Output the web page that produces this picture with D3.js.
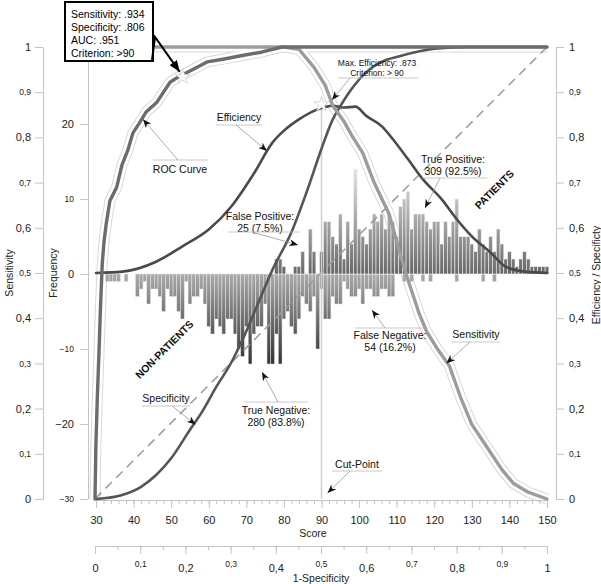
<!DOCTYPE html>
<html>
<head>
<meta charset="utf-8">
<script src="https://cdn.jsdelivr.net/npm/d3@7"></script>
<style>
body { margin: 0; background: #fff; }
svg { font-family: "Liberation Sans", Arial, sans-serif; }
</style>
</head>
<body>
<svg id="chart" width="601" height="584"></svg>
<script>
// Data

// histogram bins, one per score point 30..150
var scores = d3.range(30, 151);
// patients: frequency above the zero line
var patients = [
  0,0,0,0,0,0,0,0,0,0,
  0,0,0,0,0,0,0,0,0,0,
  0,0,0,0,0,0,0,0,0,0,
  0,0,0,0,0,0,0,0,0,0,
  0,0,0,0,0,0,0,0,2,2,
  1,0,0,1,1,3,0,6,3,0,
  3,7,7,5,4,8,2,7,4,14,
  6,5,4,6,8,7,8,6,8,7,
  5,9,10,11,6,8,8,8,7,6,
  7,7,4,7,5,7,10,5,5,5,
  4,3,6,4,3,5,3,6,4,2,
  3,2,1,2,3,2,1,1,1,1,
  1
];
// non-patients: frequency drawn below the zero line
var nonPatients = [
  0,0,0,1,1,1,1,0,1,0,
  0,3,2,1,4,2,2,3,5,2,
  3,3,5,6,1,4,3,3,2,4,
  7,8,6,7,8,6,6,8,10,11,
  7,12,8,7,7,4,12,12,8,12,
  6,5,7,8,6,3,4,5,3,10,
  2,6,6,3,4,4,1,2,3,3,
  2,4,2,2,3,3,2,2,3,3,
  0,0,1,0,1,0,0,1,0,1,
  0,0,0,0,0,0,1,0,0,0,
  0,0,0,1,0,0,1,0,0,0,
  0,0,0,0,0,0,0,0,0,0,
  0
];

// curves against score
var sensScore = [30, 80, 84, 88, 91, 93, 96, 98, 101, 104, 108, 111, 113, 116, 118, 121, 124, 127, 130, 134, 138, 141, 145, 150];
var sensValue = [1, 1, .995, .955, .915, .87, .835, .805, .765, .70, .63, .54, .485, .41, .37, .33, .295, .225, .165, .115, .065, .035, .015, 0];

var specScore = [30, 37, 42, 46, 50, 55, 58, 62, 66, 69, 73, 77, 82, 86, 90, 93, 95, 98, 102, 106, 111, 120, 129, 150];
var specValue = [0, .009, .027, .053, .09, .153, .19, .248, .302, .353, .43, .508, .59, .678, .775, .84, .869, .907, .945, .967, .98, .996, 1, 1];

var effScore = [30, 37, 46, 53, 60, 66, 72, 77, 80, 84, 89, 93, 96, 99, 102, 106, 109, 113, 117, 122, 126, 130, 135, 139, 144, 150];
var effValue = [.5, .503, .525, .559, .596, .647, .72, .789, .815, .84, .862, .87, .866, .868, .847, .825, .796, .752, .707, .663, .619, .581, .545, .514, .503, .5];

// ROC curve: 1-specificity vs sensitivity
var rocFpr = [0, .002, .005, .009, .012, .016, .02, .025, .033, .048, .06, .072, .084, .097, .113, .137, .166, .188, .21, .248, .283, .32, .37, .414, 1];
var rocTpr = [0, .12, .22, .33, .42, .52, .57, .61, .66, .69, .74, .77, .81, .83, .856, .878, .922, .936, .947, .967, .973, .98, .989, 1, 1];

// ticks
var propTicks = [0, .1, .2, .3, .4, .5, .6, .7, .8, .9, 1];
var propTickLabels = ["0", "0,1", "0,2", "0,3", "0,4", "0,5", "0,6", "0,7", "0,8", "0,9", "1"];
var freqTicks = [-30, -20, -10, 0, 10, 20];
var scoreTicks = [30, 40, 50, 60, 70, 80, 90, 100, 110, 120, 130, 140, 150];

var cutPoint = 90;
var maxEfficiency = .873;
var critFpr = .194, critSens = .934;

// Scales
var xScore = d3.scaleLinear().domain([30, 150]).range([96, 547]);
var xFpr = d3.scaleLinear().domain([0, 1]).range([95, 547]);
var yProp = d3.scaleLinear().domain([0, 1]).range([499, 47]);
var yFreq = d3.scaleLinear().domain([-30, 30]).range([499, 49]);

var svg = d3.select('#chart');

var defs = svg.append('defs');
// gradient for patient bars (light at top, darker at zero)
var gPos = defs.append('linearGradient').attr('id', 'gradPos')
    .attr('gradientUnits', 'userSpaceOnUse')
    .attr('x1', 0).attr('x2', 0).attr('y1', yFreq(15)).attr('y2', yFreq(0));
gPos.append('stop').attr('offset', 0).attr('stop-color', '#eeeeee');
gPos.append('stop').attr('offset', 1).attr('stop-color', '#686868');
// gradient for non-patient bars (light at zero, dark at the bottom)
var gNeg = defs.append('linearGradient').attr('id', 'gradNeg')
    .attr('gradientUnits', 'userSpaceOnUse')
    .attr('x1', 0).attr('x2', 0).attr('y1', yFreq(0)).attr('y2', yFreq(-12));
gNeg.append('stop').attr('offset', 0).attr('stop-color', '#ababab');
gNeg.append('stop').attr('offset', 1).attr('stop-color', '#333');

// clip so band outlines do not poke above the top line
defs.append('clipPath').attr('id', 'bandClip')
    .append('rect').attr('x', 0).attr('y', yProp(1) + 2).attr('width', 601).attr('height', 584);

// arrowheads
defs.append('marker').attr('id', 'arr')
    .attr('viewBox', '0 0 10 8').attr('refX', 10).attr('refY', 4)
    .attr('markerWidth', 9).attr('markerHeight', 7)
    .attr('markerUnits', 'userSpaceOnUse').attr('orient', 'auto')
    .append('path').attr('d', 'M0,0 L10,4 L0,8 L3,4 Z').attr('fill', '#111');
defs.append('marker').attr('id', 'arrBig')
    .attr('viewBox', '0 0 10 8').attr('refX', 10).attr('refY', 4)
    .attr('markerWidth', 12).attr('markerHeight', 9)
    .attr('markerUnits', 'userSpaceOnUse').attr('orient', 'auto')
    .append('path').attr('d', 'M0,0 L10,4 L0,8 Z').attr('fill', '#000');

// line generators
var lineScore = d3.line().x(d => xScore(d[0])).y(d => yProp(d[1]));
var lineSmooth = d3.line().x(d => xScore(d[0])).y(d => yProp(d[1])).curve(d3.curveMonotoneX);
var lineRoc = d3.line().x(d => xFpr(d[0])).y(d => yProp(d[1]));
var sensPts = d3.zip(sensScore, sensValue);
var specPts = d3.zip(specScore, specValue);
var effPts = d3.zip(effScore, effValue);
var rocPts = d3.zip(rocFpr, rocTpr);

// confidence bands round ROC and sensitivity (thin light outlines)
var bands = svg.append('g').attr('clip-path', 'url(#bandClip)');
[[lineRoc, rocPts], [lineScore, sensPts]].forEach(function (c) {
    bands.append('path').attr('d', c[0](c[1])).attr('fill', 'none')
        .attr('stroke', '#d9d9d9').attr('stroke-width', 11).attr('stroke-linejoin', 'round');
});
[[lineRoc, rocPts], [lineScore, sensPts]].forEach(function (c) {
    bands.append('path').attr('d', c[0](c[1])).attr('fill', 'none')
        .attr('stroke', '#fff').attr('stroke-width', 9).attr('stroke-linejoin', 'round');
});

// axes
function styleAxis(g) {
    g.select('.domain').attr('stroke', '#c4c4c4');
    g.selectAll('.tick line').attr('stroke', '#c4c4c4');
    g.selectAll('.tick text').attr('fill', '#222').attr('font-family', null);
}

// sensitivity (far left)
svg.append('g').attr('transform', 'translate(43,0)')
    .call(d3.axisLeft(yProp).tickValues(propTicks).tickFormat((d, i) => propTickLabels[i]).tickSize(8).tickSizeOuter(0).tickPadding(4))
    .call(styleAxis)
    .selectAll('.tick text').attr('font-size', (d, i) => i % 2 ? 8.5 : 11);

// frequency
svg.append('g').attr('transform', 'translate(88,0)')
    .call(d3.axisLeft(yFreq).tickValues(freqTicks).tickSize(8).tickSizeOuter(0).tickPadding(6))
    .call(styleAxis)
    .selectAll('.tick text').attr('font-size', d => (d / 10) % 2 ? 8.5 : 11);
// extend frequency axis line to the top like the original
svg.append('line').attr('x1', 88).attr('x2', 88).attr('y1', yProp(1)).attr('y2', yFreq(30)).attr('stroke', '#c4c4c4');

// right: efficiency / specificity
svg.append('g').attr('transform', 'translate(556,0)')
    .call(d3.axisRight(yProp).tickValues(propTicks).tickFormat((d, i) => propTickLabels[i]).tickSize(8).tickSizeOuter(0).tickPadding(5))
    .call(styleAxis)
    .selectAll('.tick text').attr('font-size', (d, i) => i % 2 ? 8.5 : 11);

// score axis
svg.append('g').attr('transform', 'translate(0,500)')
    .call(d3.axisBottom(xScore).tickValues(d3.range(30, 151, 2)).tickFormat('').tickSize(4).tickSizeOuter(0))
    .call(styleAxis);
svg.append('g').attr('transform', 'translate(0,500)')
    .call(d3.axisBottom(xScore).tickValues(scoreTicks).tickSize(8).tickSizeOuter(0).tickPadding(8))
    .call(styleAxis)
    .selectAll('.tick text').attr('font-size', 11);

// 1-specificity axis
svg.append('g').attr('transform', 'translate(0,546)')
    .call(d3.axisBottom(xFpr).ticks(30).tickFormat('').tickSize(4).tickSizeOuter(0))
    .call(styleAxis);
svg.append('g').attr('transform', 'translate(0,546)')
    .call(d3.axisBottom(xFpr).tickValues(propTicks).tickFormat((d, i) => propTickLabels[i]).tickSize(8).tickSizeOuter(0).tickPadding(10))
    .call(styleAxis)
    .selectAll('.tick text').attr('font-size', (d, i) => i % 2 ? 8.5 : 11)
    .attr('dy', (d, i) => i % 2 ? '0.4em' : '0.71em');

// axis titles
function title(txt, x, y, rot) {
    svg.append('text').attr('transform', 'translate(' + x + ',' + y + ')' + (rot ? ' rotate(' + rot + ')' : ''))
        .attr('text-anchor', 'middle').attr('font-size', 10.5).attr('fill', '#222').text(txt);
}
title('Sensitivity', 13, 273, -90);
title('Frequency', 57, 273, -90);
title('Efficiency / Specificty', 600, 275, -90);
title('Score', 313, 537);
title('1-Specificity', 321, 582);

// histogram
var bw = xScore(31) - xScore(30);
var hist = svg.append('g');
hist.selectAll('rect.neg').data(scores.map((s, i) => [s, nonPatients[i]]).filter(d => d[1] > 0))
    .enter().append('rect').attr('class', 'neg')
    .attr('x', d => xScore(d[0]) - bw / 2)
    .attr('width', bw)
    .attr('y', yFreq(0))
    .attr('height', d => yFreq(-d[1]) - yFreq(0))
    .attr('fill', 'url(#gradNeg)').attr('stroke', '#e6e6e6').attr('stroke-width', 0.5);
hist.selectAll('rect.pos').data(scores.map((s, i) => [s, patients[i]]).filter(d => d[1] > 0))
    .enter().append('rect').attr('class', 'pos')
    .attr('x', d => xScore(d[0]) - bw / 2)
    .attr('width', bw)
    .attr('y', d => yFreq(d[1]))
    .attr('height', d => yFreq(0) - yFreq(d[1]))
    .attr('fill', 'url(#gradPos)').attr('stroke', '#f4f4f4').attr('stroke-width', 0.6);

// diagonal reference line (over the bars)
svg.append('line')
    .attr('x1', xFpr(0)).attr('y1', yProp(0)).attr('x2', xFpr(1)).attr('y2', yProp(1))
    .attr('stroke', '#9a9a9a').attr('stroke-width', 1.5).attr('stroke-dasharray', '9,6');

// cut-point line
svg.append('line')
    .attr('x1', xScore(cutPoint)).attr('x2', xScore(cutPoint))
    .attr('y1', yProp(maxEfficiency)).attr('y2', yProp(0))
    .attr('stroke', '#cfcfcf').attr('stroke-width', 1.5);

// curves
function curve(gen, pts, color, w) {
    svg.append('path').attr('d', gen(pts)).attr('fill', 'none')
        .attr('stroke', color).attr('stroke-width', w)
        .attr('stroke-linejoin', 'round').attr('stroke-linecap', 'round');
}
curve(lineSmooth, effPts, '#4a4a4a', 2.6);
curve(lineSmooth, specPts, '#555', 2.6);
curve(lineScore, sensPts, '#9c9c9c', 3.4);
curve(lineRoc, rocPts, '#6c6c6c', 3.4);

// light star markers at the criterion
var star = d3.symbol().type(d3.symbolStar).size(70);
[[xFpr(critFpr), yProp(critSens)], [xScore(cutPoint), yProp(maxEfficiency)]].forEach(function (p) {
    svg.append('path').attr('d', star()).attr('transform', 'translate(' + p[0] + ',' + p[1] + ')')
        .attr('fill', '#fff').attr('stroke', '#cfcfcf').attr('stroke-width', 0.8);
});

// annotations
var ann = svg.append('g').attr('font-size', 10.5).attr('fill', '#111');
function note(lines, tx, ty, ul, from, to, size) {
    var fs = size || 10.5;
    lines.forEach(function (t, i) {
        ann.append('text').attr('x', tx).attr('y', ty + i * fs * 1.15)
            .attr('text-anchor', 'middle').attr('font-size', fs).text(t);
    });
    ann.append('line').attr('x1', ul[0]).attr('x2', ul[1]).attr('y1', ul[2]).attr('y2', ul[2])
        .attr('stroke', '#bbb').attr('stroke-width', 0.8);
    ann.append('line').attr('x1', from[0]).attr('y1', from[1]).attr('x2', to[0]).attr('y2', to[1])
        .attr('stroke', '#999').attr('stroke-width', 0.8).attr('marker-end', 'url(#arr)');
}
note(['ROC Curve'], 180, 173, [153, 208, 160], [178, 160], [xFpr(.106), yProp(.84)]);
note(['Efficiency'], 239, 121, [216, 262, 125], [236, 125], [xScore(75.5), yProp(.77)]);
note(['Max. Efficiency: .873', 'Criterion: > 90'], 377, 66, [338, 418, 78], [350, 78], [332, 100], 8.5);
note(['True Positive:', '309 (92.5%)'], 453, 163, [422, 487, 178], [440, 178], [425, 208]);
note(['False Positive:', '25 (7.5%)'], 260, 220, [228, 300, 232], [252, 232], [298, 245]);
note(['Specificity'], 166, 402, [142, 190, 406], [172, 406], [xScore(56.5), yProp(.165)]);
note(['True Negative:', '280 (83.8%)'], 276, 414, [244, 308, 402], [278, 402], [262, 372]);
note(['False Negative:', '54 (16.2%)'], 390, 339, [355, 425, 328], [385, 328], [372, 310]);
note(['Sensitivity'], 476, 338, [452, 500, 342], [470, 342], [xScore(123.2), yProp(.3)]);
note(['Cut-Point'], 357, 468, [332, 382, 471], [350, 471], [xScore(cutPoint) + 6, 493]);

// group labels
svg.append('text').attr('transform', 'translate(497,192) rotate(-45)')
    .attr('text-anchor', 'middle').attr('font-size', 10.5).attr('font-weight', 'bold').attr('fill', '#111')
    .text('PATIENTS');
svg.append('text').attr('transform', 'translate(167,352) rotate(-45)')
    .attr('text-anchor', 'middle').attr('font-size', 10.5).attr('font-weight', 'bold').attr('fill', '#111')
    .text('NON-PATIENTS');

// summary box with zig-zag pointer
svg.append('rect').attr('x', 65).attr('y', 2).attr('width', 88).attr('height', 59)
    .attr('fill', '#fff').attr('stroke', '#000').attr('stroke-width', 2);
var boxLines = ['Sensitivity: .934', 'Specificity: .806', 'AUC: .951', 'Criterion: >90'];
boxLines.forEach(function (t, i) {
    svg.append('text').attr('x', 71).attr('y', 18 + i * 13).attr('font-size', 10.5).attr('fill', '#000').text(t);
});
svg.append('path')
    .attr('d', 'M152,60 L155,37 L' + (xFpr(critFpr) - 3) + ',' + (yProp(critSens) - 5))
    .attr('fill', 'none').attr('stroke', '#000').attr('stroke-width', 2)
    .attr('marker-end', 'url(#arrBig)');
</script>
</body>
</html>
